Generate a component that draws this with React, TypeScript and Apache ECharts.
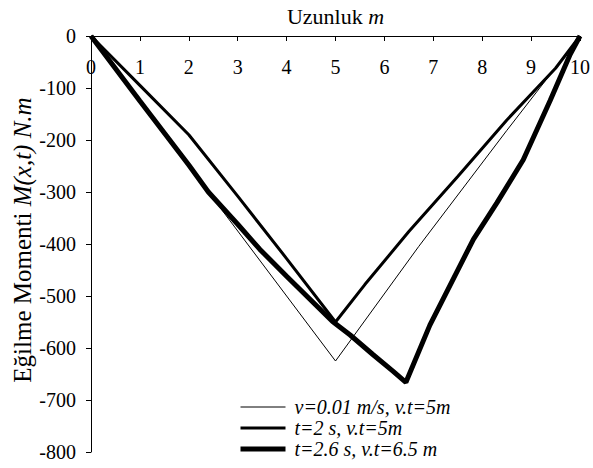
import React, { useEffect, useRef } from "react";
import * as echarts from "echarts";

const xTicks = [0, 10];
const yRange = [-800, 0];

const thinX = [0, 5, 6.7, 8.5, 10];
const thinY = [0, -625, -405, -182, 0];

const medX = [0, 1, 2, 3, 4, 5, 5.6, 6.5, 7.5, 8.5, 9.5, 10];
const medY = [0, -95, -190, -308, -428, -550, -478, -376, -270, -162, -62, 0];

const thickX = [0, 1, 2, 2.4, 3, 3.45, 4, 4.94, 5.3, 5.77, 6.18, 6.44, 6.93, 7.82, 8.3, 8.84, 9.39, 9.8, 10];
const thickY = [0, -125, -248, -300, -362, -410, -462, -549, -575, -613, -645, -666, -556, -391, -321, -238, -124, -35, 0];

const seriesNames = ["v=0.01 m/s, v.t=5m", "t=2 s, v.t=5m", "t=2.6 s, v.t=6.5 m"];
const lineWidths = [1, 3, 5];

const FONT = "Liberation Serif";

const zip = (xs: number[], ys: number[]) => xs.map((x, i) => [x, ys[i]]);

export default function App() {
  const ref = useRef<HTMLDivElement>(null);
  useEffect(() => {
    if (!ref.current) return;
    const chart = echarts.init(ref.current, undefined, { renderer: "svg" });
    const mk = (name: string, data: number[][], w: number) => ({
      name,
      type: "line",
      data,
      symbol: "none",
      lineStyle: { color: "#000", width: w },
      itemStyle: { color: "#000" },
    });
    chart.setOption({
      animation: false,
      backgroundColor: "#fff",
      textStyle: { fontFamily: FONT, color: "#000" },
      grid: { left: 91, right: 12, top: 32, bottom: 16, containLabel: false },
      xAxis: {
        type: "value",
        position: "top",
        min: xTicks[0],
        max: xTicks[1],
        interval: 1,
        name: "{n|Uzunluk }{i|m}",
        nameLocation: "middle",
        nameGap: 9,
        nameTextStyle: {
          rich: {
            n: { fontFamily: FONT, fontSize: 22, color: "#000" },
            i: { fontFamily: FONT, fontSize: 22, fontStyle: "italic", color: "#000" },
          },
        },
        axisLine: { show: true, onZero: false, lineStyle: { color: "#000", width: 1 } },
        axisTick: { show: true, inside: true, length: 5, lineStyle: { color: "#000" } },
        axisLabel: { inside: true, margin: 21, fontFamily: FONT, fontSize: 20, color: "#000" },
        splitLine: { show: false },
      },
      yAxis: {
        type: "value",
        min: yRange[0],
        max: yRange[1],
        interval: 100,
        axisLine: { show: true, onZero: false, lineStyle: { color: "#000", width: 1 } },
        axisTick: { show: true, inside: false, length: 5, lineStyle: { color: "#000" } },
        axisLabel: { margin: 15, fontFamily: FONT, fontSize: 20, color: "#000" },
        splitLine: { show: false },
      },
      graphic: [
        {
          type: "text",
          x: 22,
          y: 240,
          rotation: Math.PI / 2,
          style: {
            text: "{n|Eğilme Momenti }{i|M(x,t) N.m}",
            align: "center",
            verticalAlign: "middle",
            rich: {
              n: { fontFamily: FONT, fontSize: 25, fill: "#000" },
              i: { fontFamily: FONT, fontSize: 25, fontStyle: "italic", fill: "#000" },
            },
          },
        },
      ],
      legend: {
        orient: "vertical",
        left: 238,
        top: 397,
        itemWidth: 45,
        itemHeight: 14,
        itemGap: 1,
        padding: 0,
        data: seriesNames.map((n, i) => ({
          name: n,
          lineStyle: { width: lineWidths[i], color: "#000" },
        })),
        itemStyle: { opacity: 0 },
        textStyle: {
          fontFamily: FONT,
          fontSize: 20,
          fontStyle: "italic",
          color: "#000",
          lineHeight: 20,
          padding: [0, 0, 0, 4],
        },
      },
      series: [
        mk(seriesNames[0], zip(thinX, thinY), lineWidths[0]),
        mk(seriesNames[1], zip(medX, medY), lineWidths[1]),
        mk(seriesNames[2], zip(thickX, thickY), lineWidths[2]),
      ],
    });
    return () => chart.dispose();
  }, []);
  return (
    <div
      ref={ref}
      style={{ position: "fixed", left: 0, top: 0, width: 593, height: 468, background: "#fff" }}
    />
  );
}
